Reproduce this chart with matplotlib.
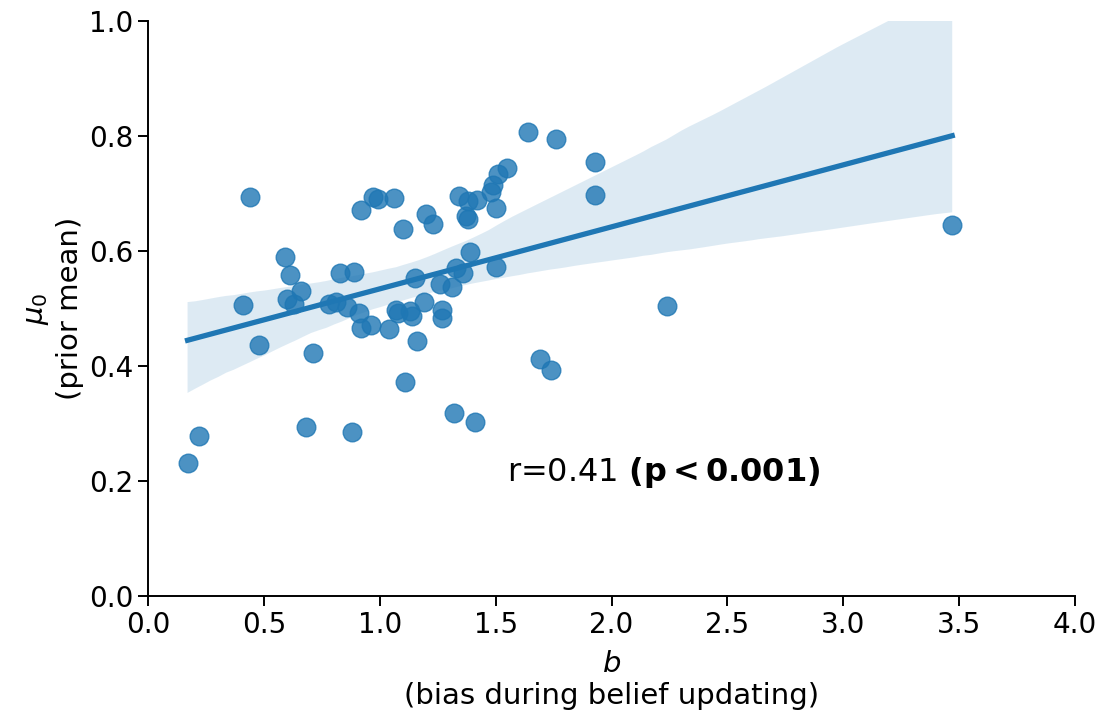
import numpy as np
import pandas as pd
import matplotlib
matplotlib.use("Agg")
import matplotlib.pyplot as plt
import seaborn as sns

# values
b = [0.17, 0.22, 0.41, 0.44, 0.48, 0.59, 0.61, 0.60, 0.63, 0.66, 0.68, 0.71,
     0.78, 0.81, 0.83, 0.86, 0.88, 0.89, 0.91, 0.92, 0.92, 0.96, 0.97, 0.99,
     1.04, 1.06, 1.07, 1.08, 1.10, 1.11, 1.13, 1.15, 1.14, 1.16, 1.19, 1.20,
     1.23, 1.26, 1.27, 1.27, 1.31, 1.32, 1.33, 1.34, 1.36, 1.37, 1.38, 1.38,
     1.39, 1.41, 1.42, 1.48, 1.49, 1.50, 1.50, 1.51, 1.55, 1.64, 1.69, 1.74,
     1.76, 1.93, 1.93, 2.24, 3.47]
mu0 = [0.231, 0.279, 0.506, 0.693, 0.437, 0.590, 0.558, 0.516, 0.508, 0.531,
       0.294, 0.422, 0.507, 0.512, 0.561, 0.503, 0.285, 0.563, 0.492, 0.672,
       0.467, 0.472, 0.693, 0.690, 0.464, 0.692, 0.497, 0.493, 0.638, 0.373,
       0.496, 0.553, 0.487, 0.443, 0.511, 0.665, 0.647, 0.542, 0.497, 0.483,
       0.538, 0.319, 0.571, 0.696, 0.561, 0.660, 0.687, 0.655, 0.599, 0.302,
       0.689, 0.703, 0.715, 0.674, 0.573, 0.734, 0.744, 0.806, 0.412, 0.393,
       0.795, 0.755, 0.697, 0.504, 0.645]

df = pd.DataFrame({"b": b, "mu0": mu0})

fig, ax = plt.subplots(figsize=(11.14, 7.15), dpi=100)
sns.regplot(data=df, x="b", y="mu0", ax=ax, seed=0,
            scatter_kws={"s": 180}, line_kws={"lw": 3.8})
sns.despine(ax=ax)

ax.set_xlim(0, 4)
ax.set_ylim(0, 1)
ax.set_xticks(np.arange(0, 4.01, 0.5))
ax.set_yticks(np.arange(0, 1.01, 0.2))
ax.tick_params(labelsize=20, width=1.4, length=7)
for s in ["left", "bottom"]:
    ax.spines[s].set_linewidth(1.4)

ax.set_xlabel("$b$\n(bias during belief updating)", fontsize=21, labelpad=8)
ax.set_ylabel("$\\mu_0$\n(prior mean)", fontsize=21)
ax.text(1.55, 0.2, "r=0.41 $\\bf{(p<0.001)}$", fontsize=23)

plt.subplots_adjust(left=0.133, right=0.965, top=0.971, bottom=0.166)
plt.savefig("out.png", dpi=100)
